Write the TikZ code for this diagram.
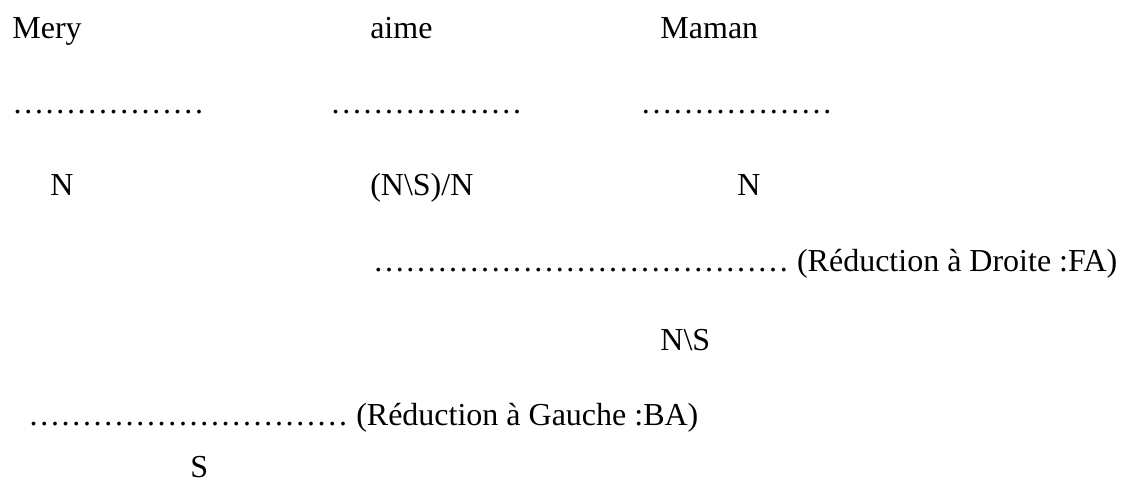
\documentclass[tikz,border=0pt]{standalone}
\usepackage{fontspec}
\setmainfont{Liberation Serif}
\begin{document}
\begin{tikzpicture}[inner sep=0pt,every node/.style={anchor=base west,font=\fontsize{16}{19}\selectfont}]
\useasboundingbox (0,0) rectangle (20.07,-8.733);
\node (mery) at (0.21,-0.685) {Mery};
\node (aime) at (6.50,-0.685) {aime};
\node (maman) at (11.60,-0.685) {Maman};
\node (d1) at (0.21,-1.986) {\foreach \i in {1,...,6}{…}};
\node (d2) at (5.80,-1.986) {\foreach \i in {1,...,6}{…}};
\node (d3) at (11.25,-1.986) {\foreach \i in {1,...,6}{…}};
\node (n1) at (0.88,-3.444) {N};
\node (tv) at (6.50,-3.444) {(N\textbackslash S)/N};
\node (n2) at (12.95,-3.444) {N};
\node (fa) at (6.55,-4.78) {\foreach \i in {1,...,13}{…}~(Réduction à Droite :FA)};
\node (vp) at (11.60,-6.168) {N\textbackslash S};
\node (ba) at (0.49,-7.486) {\foreach \i in {1,...,10}{…}~(Réduction à Gauche :BA)};
\node (s) at (3.34,-8.400) {S};
\end{tikzpicture}
\end{document}
